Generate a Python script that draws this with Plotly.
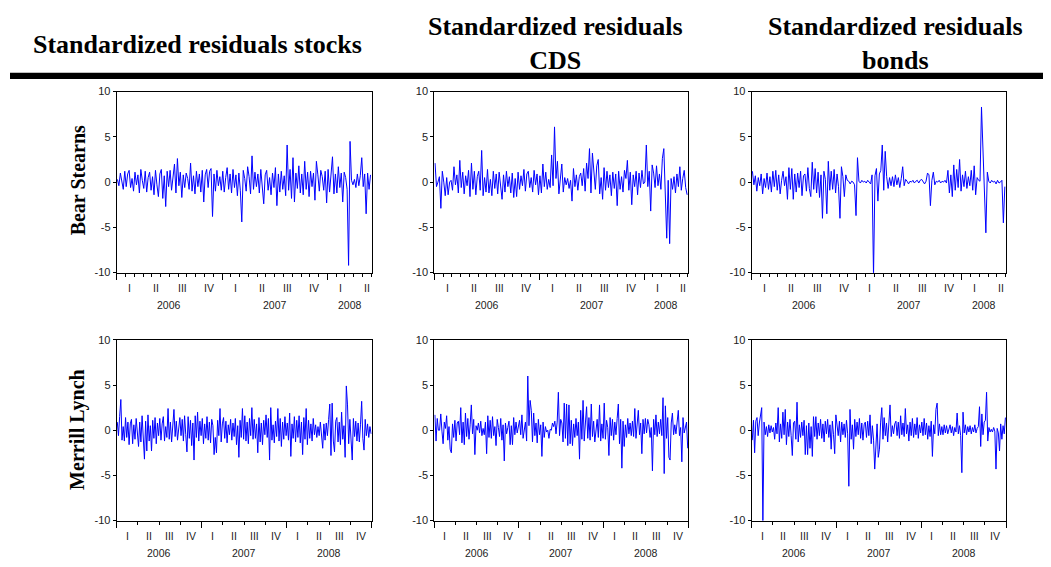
import numpy as np
import plotly.graph_objects as go

# ---------------- data (standardized residuals, ~6 obs per month) ----
bear_stocks = [
    0.3, -0.4, 1.0, 0.2, -0.8, 1.2,
    -0.5, 0.9, 1.3, -0.6, 0.4, -1.0,
    1.1, -0.3, 0.8, -1.2, 1.4, 0.2,
    -0.7, 1.2, -1.1, 0.5, 1.1, -0.9,
    0.6, -1.4, 1.3, -0.3, -1.6, 0.9,
    1.4, -1.8, 0.7, -2.7, 1.2, -0.5,
    1.3, -0.9, 0.5, 2.0, -1.2, 2.6,
    -0.4, 1.1, -1.7, 0.8, -0.6, 1.0,
    0.4, -0.8, 2.1, -1.0, 0.7, -1.3,
    1.2, -0.5, 0.9, -1.1, 1.3, -2.2,
    0.8, 1.4, -0.6, 1.2, 1.5, -3.8,
    0.9, -1.0, 1.3, -0.4, 0.6, -0.9,
    1.2, -1.1, 0.5, 1.6, -0.8, 0.9,
    -1.2, 1.4, -0.6, 0.8, -1.5, 1.0,
    -0.9, -4.4, 1.3, 0.4, -1.0, 1.7,
    0.6, -1.3, 2.9, -0.8, 1.1, -0.5,
    0.9, -1.2, 1.4, -0.7, -2.4, 0.8,
    1.3, -0.9, 0.5, -1.4, 1.0, -0.6,
    1.6, -2.6, 0.9, -1.1, 1.2, -0.8,
    0.7, -1.5, 4.1, -0.9, 1.4, -1.8,
    2.7, -2.2, 1.0, -0.7, 1.8, -1.2,
    0.9, -1.4, 2.3, -0.8, 1.1, -1.6,
    1.2, -0.5, 1.0, -2.0, 2.3, 0.8,
    -1.0, 1.3, 0.6, -0.9, 1.2, -2.3,
    1.4, -1.1, 0.8, 2.8, -1.3, 0.9,
    -1.2, 1.7, -0.6, 1.0, -2.2, 1.1,
    0.5, -0.8, -9.2, 4.5, 0.2, -0.3,
    0.3, -0.6, 0.9, -0.4, 0.7, 2.7,
    -0.5, 0.9, -3.5, 1.0, -0.8, 0.8,
]

bear_cds = [
    2.1, -0.5, 0.0, 0.6, -2.9, 1.2,
    0.0, -1.5, 0.5, -1.4, 0.0, 0.2,
    -0.9, 1.7, -0.3, 0.8, -1.2, 2.4,
    -0.6, 1.1, -1.3, 0.7, -0.4, 1.3,
    -1.6, 2.1, -0.8, 1.2, -1.4, 0.6,
    1.2, -0.9, 3.5, -1.5, 0.5, -1.1,
    1.4, -1.2, 0.3, -1.5, 1.2, -0.7,
    0.9, -1.3, 1.1, -0.6, -1.9, 0.8,
    -1.1, 1.2, -0.5, 0.6, -1.2, 1.0,
    -1.7, 0.4, -1.6, 1.1, -0.8, 0.7,
    -0.4, 1.4, -1.0, 0.9, 1.2, -0.6,
    0.5, -1.1, 1.3, -0.3, 0.9, -1.4,
    0.7, -1.2, 2.0, -0.5, 1.1, -0.8,
    0.3, -0.6, 3.0, -0.4, 6.1, 0.4,
    2.3, -1.3, 0.8, 2.0, -1.1, 0.5,
    -0.3, 0.4, -0.7, 0.2, -2.1, 1.5,
    -0.5, 0.8, -0.9, 0.6, 1.0, -0.4,
    1.5, -1.0, 2.1, 0.4, 3.7, -1.2,
    3.2, 1.0, -0.8, 1.8, 2.5, -1.3,
    0.5, -1.9, 1.6, -0.9, 1.2, -0.6,
    0.8, -1.5, 1.1, -0.7, 0.9, -2.6,
    1.2, -0.8, 0.6, -1.1, 1.3, 0.4,
    2.4, -0.9, 1.1, -2.5, 0.8, -0.5,
    1.2, -1.4, 1.0, -0.6, 1.3, -0.2,
    0.0, 4.1, -0.5, 1.2, -3.2, 1.9,
    1.0, -0.6, 1.8, -0.4, 0.9, -0.8,
    2.6, 3.7, -1.0, -6.2, 0.2, -6.8,
    0.4, -0.8, 0.6, -1.2, 0.9, -0.5,
    1.7, -0.9, 0.4, 1.3, -0.6, -1.4,
]

bear_bonds = [
    1.2, -0.3, 0.7, -1.0, 0.5, -0.4,
    0.9, -1.3, 0.4, -0.6, 1.0, -0.8,
    0.6, -1.1, 1.2, -0.5, 1.3, -0.9,
    0.8, -1.3, 0.2, 1.2, -0.4, 0.6,
    -1.9, 1.6, -0.8, 1.5, -1.9, 0.9,
    -1.1, 1.0, -0.6, 1.2, -1.5, 0.7,
    0.9, -1.0, 1.6, -0.7, -1.6, 2.2,
    -0.8, 1.5, -1.2, 1.1, -1.7, 0.8,
    -4.0, 1.2, 0.3, -3.5, 2.3, -0.9,
    1.2, -0.8, 1.4, -1.2, 0.9, -0.5,
    -4.0, 1.7, 0.6, -1.6, 0.8, 0.2,
    0.1, -0.2, 0.1, 0.0, -0.3, -3.7,
    2.7, 0.1, -0.1, 0.2, 0.0, 0.1,
    -0.1, 0.2, 0.0, -0.2, 0.8, -10.4,
    0.7, 1.5, -2.1, 0.9, 1.3, 4.1,
    -0.9, 3.4, 0.6, -0.7, 0.5, -0.4,
    0.6, -0.5, 0.8, -0.3, 0.5, -0.6,
    0.4, 1.7, -0.4, 0.3, 0.1, -0.2,
    0.1, 0.0, 0.2, -0.1, 0.1, 0.2,
    -0.1, 0.2, 0.3, 0.0, -0.2, 0.1,
    1.0, 0.8, -2.6, 0.2, 1.1, -0.3,
    0.1, 0.0, 0.2, -0.1, 0.1, 0.0,
    0.2, -0.1, 1.3, -1.2, 0.8, -1.6,
    1.9, -0.9, 1.4, -0.6, 2.5, -1.0,
    0.8, -0.5, 1.2, -0.7, 0.6, -0.4,
    1.3, -0.9, 1.8, -1.4, 0.5, 0.2,
    0.1, 8.3, 3.5, 1.1, -5.6, 1.1,
    0.1, -0.1, 0.2, 0.0, 0.1, -0.2,
    0.2, -0.1, 0.0, 0.2, -4.5, -0.5,
]

ml_stocks = [
    0.9, -0.6, 1.5, 3.4, -1.1, 0.4,
    -1.2, 1.4, -0.8, 0.9, -1.6, 0.7,
    1.2, -1.5, 0.6, -1.0, 1.3, -0.5,
    -1.8, 0.9, -1.3, 1.6, -0.7, -3.2,
    1.0, -2.3, 1.7, -1.2, 0.5, -2.3,
    1.1, -0.9, 1.4, -1.5, 0.8, -0.6,
    1.3, -1.1, 0.7, 1.5, -1.2, 0.4,
    -0.8, 2.4, -1.0, 0.9, -1.3, 0.6,
    2.3, -0.7, 1.0, -1.1, 0.5, 1.4,
    -0.6, 1.2, -1.2, 1.6, -0.5, -2.4,
    1.5, -0.9, 1.1, -1.7, 0.8, -3.3,
    1.6, -0.8, 2.0, -1.2, 1.0, -0.6,
    1.3, -1.5, 0.7, -0.9, 1.5, -1.1,
    0.9, -1.4, 1.2, 0.5, -2.7, -0.8,
    -2.5, 1.1, -0.6, 2.4, -1.3, 0.7,
    1.4, -0.9, 1.0, -1.4, 0.6, -0.5,
    1.2, -1.1, 0.8, -0.7, 1.3, -1.6,
    0.5, -3.0, 1.1, -0.8, 2.4, -1.0,
    1.6, -1.2, 0.9, -1.5, 1.3, -0.6,
    2.5, -1.0, 1.2, -0.9, 0.7, -2.5,
    1.4, -1.3, 0.8, -1.6, 1.1, -0.5,
    1.7, -0.8, 1.3, -3.3, 2.5, -1.1,
    0.6, -1.4, 1.0, -0.7, 2.4, -1.2,
    1.3, -1.8, 0.9, -1.0, 1.5, -0.6,
    0.8, -1.1, 1.9, -2.9, 0.7, -0.9,
    1.5, -1.3, 1.1, -0.8, 1.6, -1.4,
    0.9, -2.7, 1.4, -1.0, 2.4, -1.6,
    1.1, -0.9, 0.7, -1.2, 1.3, -0.5,
    0.6, -0.8, 0.4, -0.6, 0.9, -0.4,
    -2.0, 0.7, -1.1, 0.8, -0.6, 1.2,
    2.9, -2.8, 3.0, -1.2, -2.4, 1.0,
    1.4, -1.3, 0.9, -1.6, 2.0, -1.0,
    0.5, -3.0, 4.9, 2.8, -1.5, 1.2,
    -0.9, -3.3, 1.3, -0.7, 1.0, -1.2,
    0.8, -1.3, 0.6, 3.2, -0.9, -2.2,
    1.2, -0.6, 0.7, -0.8, 0.4, -0.4,
]

ml_cds = [
    1.7, -1.2, 1.3, 0.0, 0.0, 1.8,
    -0.1, -1.5, 0.9, 0.2, 1.6, -1.1,
    0.4, -2.1, -2.5, 0.7, -0.8, 1.1,
    -1.2, 0.8, 1.0, -0.5, 2.5, -1.4,
    0.9, -1.6, 1.9, -0.7, 1.3, -1.0,
    0.6, 2.8, -0.4, 1.2, -2.7, 0.5,
    0.0, 0.8, -0.3, 1.0, -0.6, 0.2,
    -0.5, 0.9, -2.6, 1.6, -0.8, 1.1,
    -0.9, 1.5, -0.6, 0.4, -1.7, 1.2,
    0.3, -0.7, 1.3, -1.1, 0.6, -3.4,
    0.8, -0.4, 0.3, 1.0, -1.6, 0.5,
    -1.6, 1.4, -0.5, 0.9, -0.3, 0.6,
    1.1, -0.5, 1.7, -0.9, 0.4, 0.9,
    -1.2, 6.0, 0.5, 3.3, 2.2, -1.3,
    1.9, -0.6, 0.8, -1.4, 1.2, -0.5,
    0.6, -2.9, 0.9, -0.8, 0.4, -0.2,
    0.0, -0.9, 0.1, 0.0, 0.8, 0.4,
    1.0, -0.4, 0.9, 4.2, -0.6, 1.2,
    0.8, -1.3, 3.0, -0.9, 2.9, -1.7,
    2.8, -1.5, 1.1, -1.7, 0.7, -0.8,
    1.3, -0.6, 0.9, -3.2, 2.2, -1.0,
    3.3, -1.2, 0.8, 2.6, -0.9, 1.4,
    -1.1, 2.9, -0.7, 1.0, -1.3, 0.5,
    1.2, -0.8, 2.8, -1.2, 0.7, -0.9,
    3.0, -1.0, 1.1, 0.3, -2.8, 1.4,
    -0.6, 1.2, -1.1, 0.9, -0.5, 1.3,
    2.9, -1.5, 1.2, -4.2, 1.0, -1.8,
    0.6, -0.8, 1.3, -0.4, 0.8, -0.6,
    1.0, -0.7, 2.4, -0.9, 1.1, 2.2,
    -0.5, 0.8, -2.6, 1.2, -0.4, 1.3,
    -0.3, 1.2, 0.6, -0.8, 0.3, -4.5,
    1.2, -0.5, 1.7, -0.7, 0.9, -0.4,
    1.2, -0.6, 3.6, -4.8, 2.7, -0.9,
    1.4, -3.0, -3.3, 0.8, 1.9, -0.5,
    0.6, -0.4, 0.9, 2.2, -0.6, 0.3,
    -3.5, 1.4, -0.3, 0.4, 0.9, -2.0,
]

ml_bonds = [
    -1.1, 1.1, -2.5, 1.0, 1.4, -0.6,
    0.8, 2.0, 2.5, -10.4, 0.9, -0.5,
    0.4, -0.7, 0.6, -0.3, 0.5, -0.2,
    0.3, -1.0, 0.8, -0.4, 2.5, -1.3,
    0.7, -0.9, 2.0, -0.5, 2.3, -1.6,
    0.9, -0.7, 1.2, -0.6, -2.8, 0.8,
    1.0, -1.0, 3.1, -1.3, 0.6, -0.8,
    0.9, -0.6, 1.1, -2.7, 0.5, -2.7,
    0.8, -2.0, 0.4, -2.9, 1.5, -0.7,
    1.5, -1.0, 0.8, -0.6, 1.2, -0.9,
    0.7, -1.3, 1.0, -0.4, 1.2, -0.8,
    0.6, -2.1, 1.0, -0.5, -2.6, 1.7,
    0.8, -0.6, 1.0, -1.3, 0.9, -0.5,
    0.7, -0.8, 1.1, -0.4, -6.2, 2.3,
    -1.0, 0.6, -2.1, 1.2, -0.7, 0.9,
    -0.5, 1.3, -0.9, 0.8, -1.1, 0.6,
    0.9, -0.8, 1.0, -0.6, 1.7, -1.5,
    0.5, -1.1, -4.3, -1.8, 0.7, -3.0,
    -2.1, 0.9, 2.5, -1.0, 1.4, -0.6,
    0.8, -1.3, 1.2, 2.8, -0.7, 0.5,
    -0.4, 0.7, 1.0, -0.6, 0.9, -0.9,
    1.6, -0.5, 0.8, -0.7, 2.4, -0.4,
    0.6, -1.2, 0.9, -0.6, 1.3, -0.8,
    0.7, -0.5, 1.4, -0.9, 0.6, -0.3,
    0.9, -0.6, 1.3, -0.5, 0.8, -1.0,
    0.5, -0.7, 1.0, -2.9, 0.6, -0.4,
    2.3, 3.0, -0.6, 0.7, -0.5, 0.4,
    -0.5, 0.6, -0.3, 0.5, -0.4, 0.2,
    0.6, -0.3, 0.4, -0.6, 0.3, -0.2,
    1.9, -0.4, 0.5, -0.6, -4.7, 2.0,
    -0.3, 0.6, -0.5, 0.4, -0.2, 0.5,
    -0.4, 0.3, -0.2, 0.6, -0.3, 0.2,
    0.4, 2.6, -1.8, 1.8, -0.5, 0.9,
    1.1, 4.2, -1.2, 0.3, -0.2, 0.1,
    -0.2, 0.3, -0.1, -4.3, 0.2, -0.3,
    -2.3, 0.7, -1.0, 0.5, -0.4, 1.4,
]

column_titles = ["Standardized residuals stocks",
                 "Standardized residuals<br>CDS",
                 "Standardized residuals<br>bonds"]
row_titles = ["Bear Stearns", "Merrill Lynch"]
quarter_labels = ["I", "II", "III", "IV"]
year_labels = ["2006", "2007", "2008"]
y_ticks = [-10, -5, 0, 5, 10]
obs_per_month = 6

# ---------------- layout geometry ----------------
# the page body has an 8px margin, so the figure is offset by 8px on screen
OFF = 8
W, H = 1051 - OFF, 567 - OFF


def px_x(p):
    return (p - OFF) / W


def px_y(p):
    return 1 - (p - OFF) / H


col_px = [(116.7, 371.7), (434.3, 688.3), (751.7, 1006.0)]
row_px = [(87.3, 272.3), (341.0, 525.7)]
row_span = [29.05, 36.0]  # months shown (Bear ends late May 2008)

series = [[bear_stocks, bear_cds, bear_bonds], [ml_stocks, ml_cds, ml_bonds]]

fig = go.Figure()
annotations = []
layout_axes = {}
TICKFONT = dict(family="Liberation Sans, Arial", size=11, color="#222222")
LABFONT = dict(family="Liberation Sans, Arial", size=10.5, color="#222222")

k = 0
for r in range(2):
    for c in range(3):
        k += 1
        sfx = "" if k == 1 else str(k)
        vals = series[r][c]
        x = (np.arange(len(vals)) + 0.5) / obs_per_month
        span = row_span[r]
        fig.add_trace(go.Scatter(
            x=x, y=vals, mode="lines",
            line=dict(color="#0000ff", width=1),
            xaxis="x" + sfx, yaxis="y" + sfx,
            showlegend=False, hoverinfo="skip"))
        x0, x1 = col_px[c]
        y0, y1 = row_px[r]
        n_years = int(np.ceil(span / 12))
        year_bounds = [12 * i for i in range(n_years + 1) if 12 * i <= span + 0.01]
        minor_vals = list(range(0, int(span) + 1)) if r == 0 else list(range(0, int(span) + 1, 3))
        layout_axes["xaxis" + sfx] = dict(
            domain=[px_x(x0), px_x(x1)], range=[0, span], anchor="y" + sfx,
            showline=True, linecolor="black", linewidth=1, mirror=True,
            showgrid=False, zeroline=False,
            tickmode="array", tickvals=year_bounds, ticks="outside", ticklen=6,
            tickcolor="black", tickwidth=1, showticklabels=False,
            minor=dict(tickmode="array", tickvals=minor_vals, ticks="outside",
                       ticklen=3, tickcolor="black", tickwidth=1, showgrid=False),
            fixedrange=True)
        layout_axes["yaxis" + sfx] = dict(
            domain=[px_y(y1), px_y(y0)], range=[-10, 10], anchor="x" + sfx,
            showline=True, linecolor="black", linewidth=1, mirror=True,
            showgrid=False, zeroline=False,
            tickmode="array", tickvals=y_ticks, ticktext=[str(v) for v in y_ticks],
            ticks="outside", ticklen=3, tickcolor="black", tickfont=TICKFONT,
            fixedrange=True)
        hpx = y1 - y0
        # quarter labels
        nq = int(span // 3) + (1 if span % 3 > 1.5 else 0)
        for q in range(nq):
            annotations.append(dict(
                x=1.5 + 3 * q, y=-16 / hpx, xref="x" + sfx, yref="y" + sfx + " domain",
                text=quarter_labels[q % 4], showarrow=False, font=LABFONT,
                xanchor="center", yanchor="middle"))
        # year labels, centered on visible part of each year
        for i, yl in enumerate(year_labels):
            a, b = 12 * i, min(span, 12 * i + 12)
            annotations.append(dict(
                x=(a + b) / 2, y=-33 / hpx, xref="x" + sfx, yref="y" + sfx + " domain",
                text=yl, showarrow=False, font=LABFONT,
                xanchor="center", yanchor="middle"))

TITLEFONT = dict(family="Liberation Serif, Times New Roman", size=26, color="black")
title_pos = [(197, 39), (555, 38), (895, 38)]
for (tx, ty), t in zip(title_pos, column_titles):
    annotations.append(dict(x=px_x(tx), y=px_y(ty), xref="paper", yref="paper",
                            text="<b>" + t + "</b>", showarrow=False, font=TITLEFONT,
                            xanchor="center", yanchor="middle", align="center"))

ROWFONT = dict(family="Liberation Serif, Times New Roman", size=20, color="black")
for ry, t in zip([178, 433], row_titles):
    annotations.append(dict(x=px_x(78), y=px_y(ry), xref="paper", yref="paper",
                            text="<b>" + t + "</b>", showarrow=False, font=ROWFONT,
                            textangle=-90, xanchor="center", yanchor="middle"))

fig.update_layout(
    width=W, height=H,
    margin=dict(l=0, r=0, t=0, b=0),
    paper_bgcolor="white", plot_bgcolor="white",
    annotations=annotations,
    shapes=[dict(type="rect", xref="paper", yref="paper",
                 x0=px_x(10), x1=1.0, y0=px_y(74.5), y1=px_y(68),
                 fillcolor="black", line=dict(width=0))],
    **layout_axes)

fig.write_html("out.html")
